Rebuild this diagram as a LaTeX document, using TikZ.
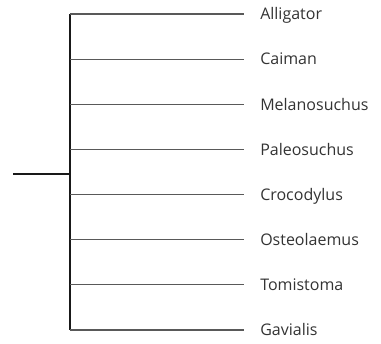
\documentclass[tikz,border=0pt]{standalone}
\usepackage{fontspec}
\setmainfont{Open Sans}
\begin{document}
\begin{tikzpicture}[x=0.75pt,y=-0.75pt,
  taxon/.style={anchor=west,inner sep=0pt,text height=8.6pt,text depth=0pt,
    font=\fontsize{12}{14}\selectfont,text=black!80},
  branch/.style={draw=black!65,line width=0.8pt,shorten >=12pt},
  trunk/.style={draw=black!90,line width=1.6pt}]
  \useasboundingbox (0,0) rectangle (381,343);
  % root stem and the vertical bar joining all branches
  \coordinate (root) at (13,174);
  \coordinate (top) at (70,14);
  \coordinate (bot) at (70,330);
  \coordinate (join) at (70,174);
  \draw[trunk] (top) -- (bot);
  \draw[trunk] (root) -- (join);
  % taxa, one per branch
  \foreach \name [count=\i] in {Alligator,Caiman,Melanosuchus,Paleosuchus,Crocodylus,Osteolaemus,Tomistoma,Gavialis} {
    \pgfmathsetmacro{\yy}{14+(\i-1)*45.14}
    \coordinate (b\i) at (70,\yy);
    \node[taxon] (t\i) at (260,\yy) {\name};
    \draw[branch] (b\i) -- (t\i.west);
  }
\end{tikzpicture}
\end{document}
